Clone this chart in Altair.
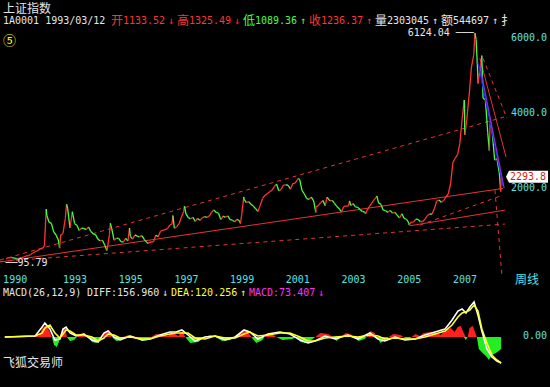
import altair as alt
import pandas as pd
import numpy as np

# ---------------- price data (month-end closes) ----------------
close_1991 = [129.97, 133.99, 120.19, 113.94, 114.83, 137.56, 145.37, 179.96, 180.92, 218.60, 259.60, 292.75]
close_1992 = [313.24, 364.25, 375.94, 445.09, 1266.49, 1080.55, 1048.14, 822.78, 738.48, 606.65, 740.63, 780.39]
close_1993 = [1179.12, 1454.05, 925.91, 1358.78, 1040.31, 1000.01, 858.89, 919.10, 915.87, 880.30, 953.71, 833.80]
close_1994 = [770.48, 750.06, 628.16, 584.68, 598.81, 467.21, 333.91, 750.66, 910.20, 600.00, 653.00, 647.87]
close_1995 = [563.58, 550.00, 650.00, 580.00, 700.51, 630.00, 740.00, 710.00, 690.00, 720.00, 620.00, 555.29]
close_1996 = [537.35, 552.00, 565.00, 730.00, 690.00, 840.00, 860.00, 880.00, 910.00, 1000.00, 1040.00, 917.02]
close_1997 = [960.00, 1040.00, 1210.00, 1360.00, 1300.00, 1200.00, 1170.00, 1210.00, 1100.00, 1180.00, 1130.00, 1194.10]
close_1998 = [1230, 1210, 1240, 1340, 1410, 1340, 1320, 1150, 1240, 1210, 1250, 1146.70]
close_1999 = [1134, 1091, 1158, 1120, 1280, 1690, 1600, 1630, 1560, 1510, 1440, 1366.58]
close_2000 = [1535, 1714, 1800, 1836, 1894, 1928, 2023, 2100, 1910, 1960, 2070, 2073.48]
close_2001 = [2065, 1960, 2110, 2120, 2210, 2218, 1920, 1834, 1710, 1690, 1750, 1645.97]
close_2002 = [1490, 1520, 1600, 1660, 1520, 1730, 1650, 1660, 1580, 1500, 1440, 1357.65]
close_2003 = [1500, 1510, 1510, 1520, 1576, 1487, 1476, 1420, 1367, 1348, 1397, 1497.04]
close_2004 = [1590, 1675, 1741, 1595, 1555, 1400, 1386, 1342, 1396, 1320, 1340, 1266.50]
close_2005 = [1191, 1306, 1181, 1159, 1060, 1080, 1083, 1162, 1155, 1092, 1099, 1161.06]
close_2006 = [1258, 1299, 1298, 1440, 1641, 1672, 1612, 1658, 1752, 1837, 2099, 2675.47]
close_2007 = [2786, 2881, 3183, 3841, 4109, 3820, 4471, 5218, 5552, 5954, 4871, 5261.56]
close_2008 = [4383, 4348, 3472, 3693, 3433, 2736, 2775, 2397]

# intra-month extremes / special weeks
ext_dates = ["1990-12-19", "1990-12-31", "1991-05-17", "1992-05-25", "1992-11-17", "1993-02-16",
             "1994-07-29", "1994-09-13", "1995-05-22", "1996-01-19", "1996-12-11", "1997-05-12",
             "1999-05-17", "1999-06-29", "2001-06-14", "2002-01-29", "2002-06-25", "2003-04-16",
             "2003-11-13", "2004-04-07", "2005-06-06", "2007-05-29", "2007-06-05", "2007-10-16",
             "2007-11-28", "2008-01-14", "2008-04-22", "2008-05-06", "2008-09-18", "2008-09-26"]
ext_values = [95.79, 127.61, 104.96, 1429.01, 386.85, 1558.95,
              325.89, 1052.94, 926.41, 512.83, 1258.69, 1510.18,
              1047.83, 1756.18, 2245.43, 1339.20, 1748.89, 1649.60,
              1307.40, 1783.01, 998.23, 4335.96, 3404.15, 6124.04,
              4778.73, 5522.78, 2990.79, 3786.02, 1900.00, 2293.78]

# ---------------- MACD data ----------------
hist_t = [1990.91, 1991.50, 1992.10, 1992.17, 1992.24, 1992.39, 1992.53, 1992.60, 1992.68, 1992.78,
          1992.89, 1992.93, 1993.00, 1993.07, 1993.14, 1993.25, 1993.40, 1993.50, 1993.61, 1993.76,
          1993.90, 1994.04, 1994.19, 1994.33, 1994.40, 1994.55, 1994.65, 1994.76, 1994.91, 1995.09,
          1995.19, 1995.34, 1995.52, 1995.63, 1995.84, 1996.06, 1996.17, 1996.35, 1996.60, 1996.78,
          1996.88, 1997.03, 1997.14, 1997.28, 1997.39, 1997.57, 1997.86, 1998.07, 1998.29, 1998.47,
          1998.72, 1999.01, 1999.19, 1999.37, 1999.55, 1999.69, 1999.76, 1999.94, 2000.16, 2000.23,
          2000.37, 2000.55, 2000.66, 2000.88, 2001.24, 2001.38, 2001.53, 2001.74, 2001.96, 2002.06,
          2002.24, 2002.53, 2002.68, 2002.82, 2003.00, 2003.14, 2003.32, 2003.47, 2003.61, 2003.83,
          2003.90, 2004.04, 2004.19, 2004.26, 2004.40, 2004.58, 2004.69, 2004.87, 2005.12, 2005.23,
          2005.37, 2005.52, 2005.66, 2005.81, 2005.95, 2006.20, 2006.45, 2006.56, 2006.71, 2006.92,
          2007.06, 2007.17, 2007.28, 2007.39, 2007.46, 2007.53, 2007.60, 2007.71, 2007.82, 2007.86,
          2007.93, 2008.07, 2008.22, 2008.29, 2008.40, 2008.54, 2008.65, 2008.73]
hist_v = [0, 12, 12, 24, 96, 144, 60, 0, -96, -120,
          -24, 0, 96, 120, 0, -48, -36, 0, 36, 48,
          0, -60, -72, -24, 0, 72, 84, 0, -48, -36,
          0, 24, 12, 0, -48, -36, 0, 36, 24, 12,
          60, 36, 12, 72, 0, -72, -60, 0, 24, 0,
          -48, -36, 0, 48, 84, 36, 0, -72, -36, 0,
          36, 24, 0, -36, -24, 0, -60, -72, -24, 0,
          48, 36, 0, -48, 0, 48, 36, 0, -48, -24,
          0, 72, 48, 0, -72, -36, 0, 36, 24, 0,
          -36, 0, 36, 12, 48, 60, 48, 24, 72, 108,
          60, 120, 132, 48, -36, 0, 108, 132, 36, 0,
          -144, -192, -240, -276, -216, -192, -168, -144]

macd_t = [1990.91, 1992.00, 1992.25, 1992.35, 1992.53, 1992.71, 1992.89, 1993.00, 1993.11, 1993.25,
          1993.47, 1993.75, 1994.04, 1994.26, 1994.47, 1994.62, 1994.83, 1995.05, 1995.41, 1995.84,
          1996.12, 1996.48, 1996.84, 1997.06, 1997.27, 1997.49, 1997.74, 1998.10, 1998.46, 1998.82,
          1999.18, 1999.50, 1999.71, 2000.00, 2000.36, 2000.79, 2001.15, 2001.51, 2001.80, 2002.05,
          2002.41, 2002.77, 2003.23, 2003.59, 2004.02, 2004.31, 2004.56, 2004.92, 2005.28, 2005.64,
          2006.00, 2006.36, 2006.72, 2006.97, 2007.18, 2007.33, 2007.47, 2007.61, 2007.76, 2007.90,
          2008.04, 2008.22, 2008.40, 2008.58, 2008.73]
diff_v = [0, 12, 120, 168, 96, -36, -24, 96, 120, 48,
          12, 36, -36, -60, 48, 72, 0, -36, 12, -36,
          -24, 24, 60, 60, 84, 24, -48, 0, 12, -36,
          0, 84, 60, -24, 36, 60, 36, -36, -72, -48,
          12, -24, 24, -24, 48, -24, -48, 0, -36, -24,
          24, 60, 96, 204, 312, 336, 288, 360, 420, 264,
          72, -144, -240, -288, -312]
dea_v = [0, 12, 48, 108, 144, 48, -12, 36, 84, 72,
         24, 24, 0, -48, -12, 36, 24, -12, 0, -24,
         -24, 12, 36, 48, 48, 48, -12, -24, 12, -12,
         -12, 36, 60, 12, 24, 48, 48, 0, -48, -48,
         -12, 0, 12, 0, 24, 12, -24, -12, -24, -24,
         0, 36, 72, 144, 240, 288, 300, 324, 384, 312,
         96, -72, -216, -276, -312]

# ---------------- trend lines drawn on the chart ----------------
solid_t1 = [1990.74, 2005.46, 2007.97]
solid_v1 = [19, 985, 5451]
solid_t2 = [2008.80, 2008.87, 2008.91]
solid_v2 = [1981, 1403, 2815]

dash_t1 = [1990.74, 1990.74, 2005.82, 2008.08, 2008.51]
dash_v1 = [72, 32, 1004, 5451, 1936]
dash_t2 = [2008.94, 2008.87, 2008.80, 2008.94, 2008.76]
dash_v2 = [3907, 1031, 1803, 3853, -327]

blue_t1 = [2007.90, 2007.97]
blue_v1 = [5345, 5238]
blue_t2 = [2008.80, 2008.84]
blue_v2 = [2043, 1990]
blue_c = ["#2020ff", "#8a2be2"]

year_label_t = [1990.85, 1993, 1995, 1997, 1999, 2001, 2003, 2005, 2007]
year_label_s = ["1990", "1993", "1995", "1997", "1999", "2001", "2003", "2005", "2007"]
price_ticks = [6000, 4000, 2000]

peak_t, peak_v = 2007.79, 6124.04
low_t, low_v = 1990.97, 95.79
last_close = 2293.8

# ---------------- build tables ----------------
monthly = {1991: close_1991, 1992: close_1992, 1993: close_1993, 1994: close_1994,
           1995: close_1995, 1996: close_1996, 1997: close_1997, 1998: close_1998,
           1999: close_1999, 2000: close_2000, 2001: close_2001, 2002: close_2002,
           2003: close_2003, 2004: close_2004, 2005: close_2005, 2006: close_2006,
           2007: close_2007, 2008: close_2008}
rows = []
for yr, vals in monthly.items():
    for i, v in enumerate(vals):
        rows.append((yr + (i + 1) / 12.0, v))
for d, v in zip(ext_dates, ext_values):
    ts = pd.Timestamp(d)
    ndays = 366 if ts.is_leap_year else 365
    rows.append((ts.year + (ts.dayofyear - 0.5) / ndays, v))
price = pd.DataFrame(rows, columns=["t", "v"]).sort_values("t").reset_index(drop=True)

RED = "#ff3434"
GREEN = "#44ff44"
LINE_RED = "#e83232"
CYAN = "#55e3e3"
WHITE = "#e6e6e6"
YELLOW = "#ffff30"
MAGENTA = "#ff30ff"
MONO = "DejaVu Sans Mono"
CJK = "Noto Sans CJK SC"

seg = price.copy()
seg["t2"] = price["t"].shift(-1)
seg["v2"] = price["v"].shift(-1)
seg = seg.dropna()
seg["c"] = np.where(seg["v2"] >= seg["v"], RED, GREEN)

hist = pd.DataFrame({"t": hist_t, "h": hist_v})
hist["pos"] = hist["h"].clip(lower=0)
hist["neg"] = hist["h"].clip(upper=0)
hist["z"] = 0
macd = pd.DataFrame({"t": macd_t, "diff": diff_v, "dea": dea_v})

XS = alt.Scale(domain=[1993, 2007], range=[63, 452.9], nice=False, zero=False)
YP = alt.Scale(domain=[0, 6000], range=[262.7, 37.7], nice=False, zero=False)
YM = alt.Scale(domain=[-300, 300], range=[362, 312], nice=False, zero=False)


def X(f):
    return alt.X(f, type="quantitative", scale=XS, axis=None)


def YPr(f):
    return alt.Y(f, type="quantitative", scale=YP, axis=None)


def YMa(f):
    return alt.Y(f, type="quantitative", scale=YM, axis=None)


# ---------------- price panel ----------------
candles = alt.Chart(seg).mark_rule(strokeWidth=1.3).encode(
    x=X("t"), x2="t2", y=YPr("v"), y2="v2", color=alt.Color("c:N", scale=None)
)
solid_df = pd.DataFrame({"t": solid_t1, "v": solid_v1, "t2": solid_t2, "v2": solid_v2})
solid = alt.Chart(solid_df).mark_rule(color=LINE_RED, strokeWidth=1).encode(
    x=X("t"), x2="t2", y=YPr("v"), y2="v2")
dash_df = pd.DataFrame({"t": dash_t1, "v": dash_v1, "t2": dash_t2, "v2": dash_v2})
dashed = alt.Chart(dash_df).mark_rule(color=LINE_RED, strokeWidth=1, strokeDash=[4, 4]).encode(
    x=X("t"), x2="t2", y=YPr("v"), y2="v2")
blue_df = pd.DataFrame({"t": blue_t1, "v": blue_v1, "t2": blue_t2, "v2": blue_v2, "c": blue_c})
blue = alt.Chart(blue_df).mark_rule(strokeWidth=1.2).encode(
    x=X("t"), x2="t2", y=YPr("v"), y2="v2", color=alt.Color("c:N", scale=None))

ylab = alt.Chart(pd.DataFrame({"v": price_ticks, "s": [f"{p:.1f}" for p in price_ticks]})).mark_text(
    font=MONO, fontSize=10, color=CYAN, align="left", baseline="middle").encode(
    x=alt.value(511), y=YPr("v"), text="s:N")

peak_lab = alt.Chart(pd.DataFrame({"t": [peak_t], "v": [peak_v], "s": [f"{peak_v:.2f} ───"]})).mark_text(
    font=MONO, fontSize=10, color=WHITE, align="right", baseline="middle", dx=-1).encode(
    x=X("t"), y=YPr("v"), text="s:N")
low_lab = alt.Chart(pd.DataFrame({"t": [low_t], "v": [low_v], "s": [f"──{low_v:.2f}"]})).mark_text(
    font=MONO, fontSize=10, color=WHITE, align="left", baseline="middle", dx=-1, dy=4).encode(
    x=X("t"), y=YPr("v"), text="s:N")

box_path = "M-1.1,0L-0.95,-0.3L1,-0.3L1,0.3L-0.95,0.3Z"
last_df = pd.DataFrame({"v": [last_close], "s": [f"{last_close:.1f}"]})
last_box = alt.Chart(last_df).mark_point(shape=box_path, filled=True, size=1600, color="white",
                                          opacity=1, strokeWidth=0).encode(
    x=alt.value(528), y=YPr("v"))
last_txt = alt.Chart(last_df).mark_text(font=MONO, fontSize=10, color="#d81c1c", align="left",
                                        baseline="middle").encode(
    x=alt.value(510), y=YPr("v"), text="s:N")

xlab = alt.Chart(pd.DataFrame({"t": year_label_t, "s": year_label_s})).mark_text(
    font=MONO, fontSize=10, color=CYAN, align="left", baseline="middle").encode(
    x=X("t"), y=alt.value(280), text="s:N")

price_layer = alt.layer(dashed, solid, candles, blue, ylab, peak_lab, low_lab, last_box, last_txt, xlab)

# ---------------- MACD panel ----------------
pos_area = alt.Chart(hist).mark_area(color="#ff2020", opacity=1).encode(
    x=X("t"), y=YMa("pos"), y2="z")
neg_area = alt.Chart(hist).mark_area(color="#22ee22", opacity=1).encode(
    x=X("t"), y=YMa("neg"), y2="z")
diff_line = alt.Chart(macd).mark_line(color="white", strokeWidth=1.6).encode(x=X("t"), y=YMa("diff"))
dea_line = alt.Chart(macd).mark_line(color=YELLOW, strokeWidth=1.6).encode(x=X("t"), y=YMa("dea"))
zero_lab = alt.Chart(pd.DataFrame({"v": [0], "s": ["0.00"]})).mark_text(
    font=MONO, fontSize=10, color=CYAN, align="left", baseline="middle", dy=-1).encode(
    x=alt.value(523), y=YMa("v"), text="s:N")
macd_layer = alt.layer(pos_area, neg_area, diff_line, dea_line, zero_lab)


# ---------------- fixed texts ----------------
def label(s, x, y, color, font=MONO, size=10, align="left"):
    return alt.Chart(pd.DataFrame({"s": [s]})).mark_text(
        font=font, fontSize=size, color=color, align=align, baseline="middle").encode(
        x=alt.value(x), y=alt.value(y), text="s:N")


texts = [
    label("上证指数", 3, 9, WHITE, CJK, 12),
    label("1A0001 1993/03/12", 3, 21, WHITE),
    label("开", 111, 21, RED, CJK, 12), label("1133.52", 123, 21, RED), label("↓", 171, 21, RED, align="center"),
    label("高", 177, 21, RED, CJK, 12), label("1325.49", 189, 21, RED), label("↓", 237, 21, RED, align="center"),
    label("低", 243, 21, GREEN, CJK, 12), label("1089.36", 255, 21, GREEN), label("↑", 303, 21, GREEN, align="center"),
    label("收", 309, 21, RED, CJK, 12), label("1236.37", 321, 21, RED), label("↑", 369, 21, RED, align="center"),
    label("量", 375, 21, WHITE, CJK, 12), label("2303045", 387, 21, WHITE), label("↑", 435, 21, WHITE, align="center"),
    label("额", 441, 21, WHITE, CJK, 12), label("544697", 453, 21, WHITE), label("↑", 495, 21, WHITE, align="center"),
    label("扌", 501, 21, WHITE, CJK, 12),
    label("⑤", 3, 41, "#ffff00", CJK, 13),
    label("周线", 515, 280, CYAN, CJK, 12),
    label("MACD(26,12,9)", 3, 293, WHITE),
    label("DIFF:156.960", 87, 293, WHITE), label("↓", 165, 293, WHITE, align="center"),
    label("DEA:120.256", 171, 293, YELLOW), label("↑", 243, 293, YELLOW, align="center"),
    label("MACD:73.407", 249, 293, MAGENTA), label("↓", 321, 293, MAGENTA, align="center"),
    label("飞狐交易师", 3, 363, WHITE, CJK, 12),
]

chart = alt.layer(price_layer, macd_layer, *texts).resolve_scale(y="independent").properties(
    width=550, height=387, background="black", padding=0, autosize="none"
).configure_view(stroke=None)

chart.save("out.html", embed_options={"renderer": "svg", "actions": False})
